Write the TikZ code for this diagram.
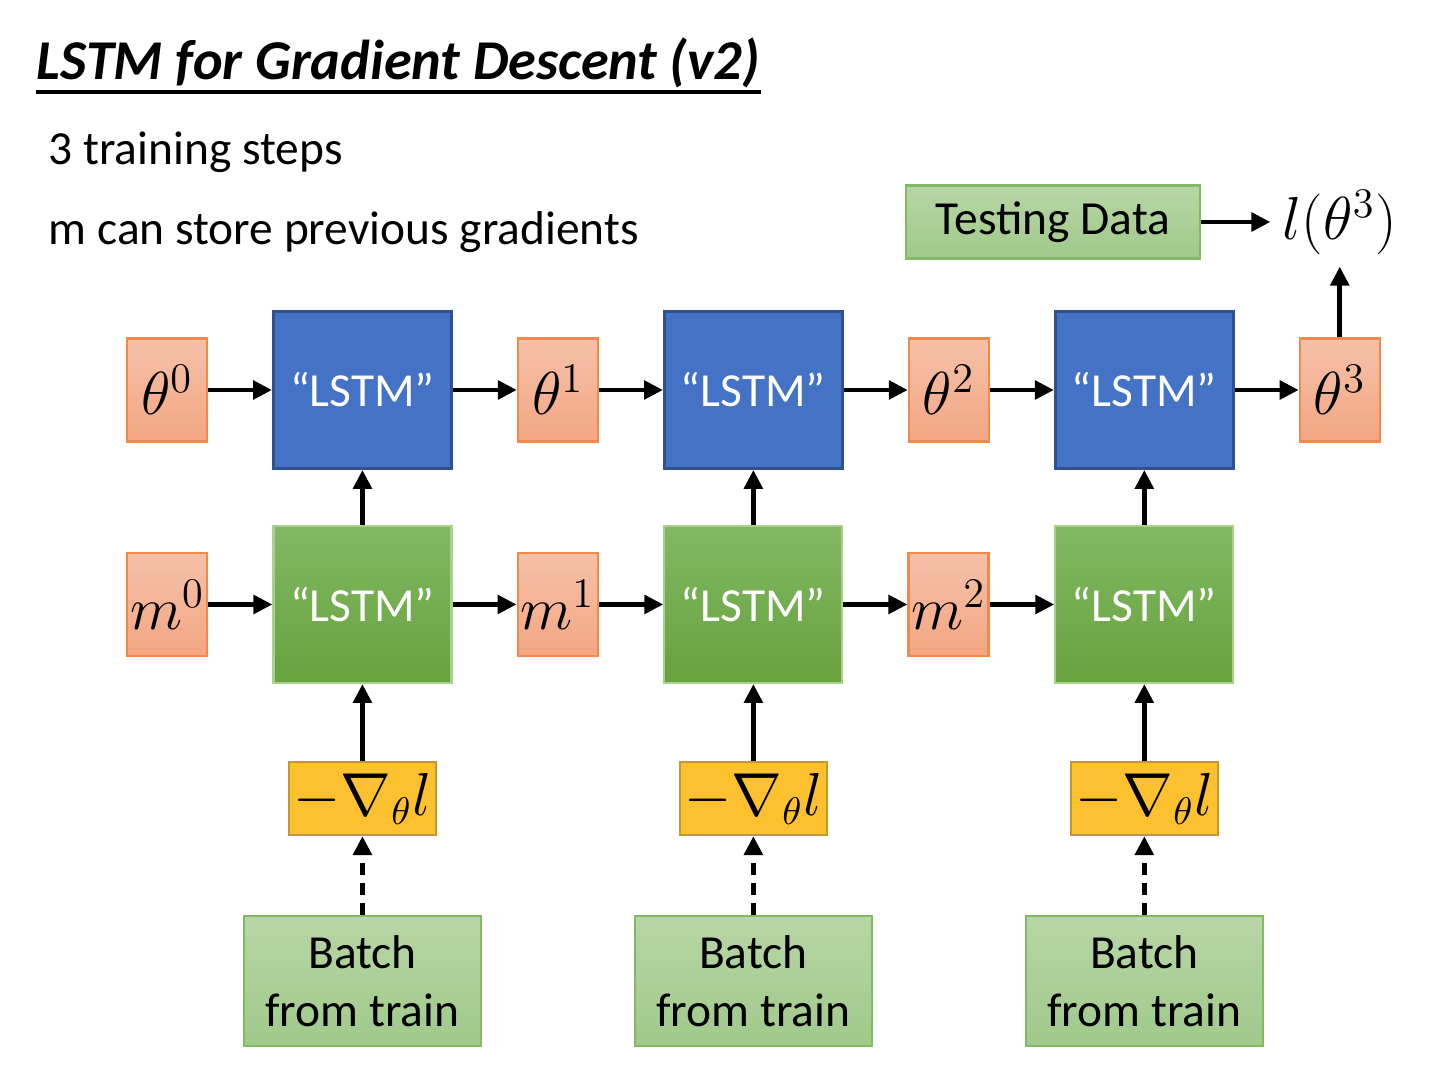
\documentclass[tikz,border=0pt]{standalone}
\usepackage{fontspec}
\setmainfont{Carlito}
\usepackage{tikz}
\usetikzlibrary{arrows.meta, positioning}
\definecolor{lstmblue}{HTML}{4472C4}
\definecolor{lstmline}{HTML}{2F528F}
\definecolor{paramtop}{HTML}{F5C1A9}
\definecolor{parambot}{HTML}{F3A682}
\definecolor{paramline}{HTML}{F08A4B}
\definecolor{celltop}{HTML}{82B864}
\definecolor{cellbot}{HTML}{67A23D}
\definecolor{cellline}{HTML}{A9D18E}
\definecolor{datatop}{HTML}{B7D6A6}
\definecolor{databot}{HTML}{A0C98A}
\definecolor{dataline}{HTML}{82BA63}
\definecolor{gradfill}{HTML}{FDC02F}
\definecolor{gradline}{HTML}{C09A2A}

\begin{document}
\begin{tikzpicture}[
    node distance=0.64cm,
    param/.style={
        rectangle, draw=paramline, line width=0.6pt,
        top color=paramtop, bottom color=parambot,
        minimum width=0.8cm, minimum height=1.03cm, inner sep=0pt,
        font=\fontsize{17}{19}\selectfont
    },
    lstm/.style={
        rectangle, draw=lstmline, line width=0.8pt, fill=lstmblue,
        minimum width=1.78cm, minimum height=1.57cm,
        text=white, font=\fontsize{13.5}{16}\selectfont
    },
    cell/.style={
        rectangle, draw=cellline, line width=0.6pt,
        top color=celltop, bottom color=cellbot,
        minimum width=1.78cm, minimum height=1.57cm,
        text=white, font=\fontsize{13.5}{16}\selectfont
    },
    grad/.style={
        rectangle, draw=gradline, line width=0.6pt, fill=gradfill,
        minimum width=1.47cm, minimum height=0.73cm, inner sep=0pt,
        font=\fontsize{16}{18}\selectfont
    },
    data/.style={
        rectangle, draw=dataline, line width=0.6pt,
        top color=datatop, bottom color=databot,
        align=center, font=\fontsize{13.5}{16.5}\selectfont
    },
    txt/.style={
        anchor=base west, inner sep=0pt, font=\fontsize{13.5}{16}\selectfont
    },
    arrow/.style={
        -{Triangle[length=5.4pt, width=5.2pt]}, line width=1.4pt
    },
    dasharrow/.style={
        arrow, dash pattern=on 3.4pt off 2.3pt
    }
]

\useasboundingbox (0,0) rectangle (14.4,-10.8);

\node[anchor=base west, inner sep=0pt, font=\fontsize{16}{19}\selectfont\bfseries\itshape]
    (title) at (0.36,-0.80) {LSTM for Gradient Descent (v2)};
\draw[line width=0.9pt] ([yshift=-0.12cm]title.base west) -- ([yshift=-0.12cm]title.base east);

\node[txt] (steps) at (0.48,-1.65) {3 training steps};
\node[txt] (store) at (0.48,-2.45) {m can store previous gradients};

\node[param] (th0) at (1.67,-3.90) {$\theta^0$};
\node[lstm, right=of th0] (lstm1) {“LSTM”};
\node[param, right=of lstm1] (th1) {$\theta^1$};
\node[lstm, right=of th1] (lstm2) {“LSTM”};
\node[param, right=of lstm2] (th2) {$\theta^2$};
\node[lstm, right=of th2] (lstm3) {“LSTM”};
\node[param, right=of lstm3] (th3) {$\theta^3$};

\node[cell, below=0.55cm of lstm1] (cell1) {“LSTM”};
\node[cell, below=0.55cm of lstm2] (cell2) {“LSTM”};
\node[cell, below=0.55cm of lstm3] (cell3) {“LSTM”};
\node[param, left=of cell1] (m0) {$m^0$};
\node[param, right=of cell1] (m1) {$m^1$};
\node[param, right=of cell2] (m2) {$m^2$};

\node[grad, below=0.77cm of cell1] (grad1) {$-\nabla_{\theta} l$};
\node[grad, below=0.77cm of cell2] (grad2) {$-\nabla_{\theta} l$};
\node[grad, below=0.77cm of cell3] (grad3) {$-\nabla_{\theta} l$};

\node[data, below=0.79cm of grad1, minimum width=2.37cm, minimum height=1.30cm] (batch1) {Batch\\from train};
\node[data, below=0.79cm of grad2, minimum width=2.37cm, minimum height=1.30cm] (batch2) {Batch\\from train};
\node[data, below=0.79cm of grad3, minimum width=2.37cm, minimum height=1.30cm] (batch3) {Batch\\from train};

\node[data, minimum width=2.94cm, minimum height=0.73cm] (test) at (10.53,-2.22) {Testing Data};
\node[font=\fontsize{17}{20}\selectfont] (loss) at (th3 |- test) {$l(\theta^3)$};

\draw[arrow] (th0) -- (lstm1);
\draw[arrow] (lstm1) -- (th1);
\draw[arrow] (th1) -- (lstm2);
\draw[arrow] (lstm2) -- (th2);
\draw[arrow] (th2) -- (lstm3);
\draw[arrow] (lstm3) -- (th3);

\draw[arrow] (m0) -- (cell1);
\draw[arrow] (cell1) -- (m1);
\draw[arrow] (m1) -- (cell2);
\draw[arrow] (cell2) -- (m2);
\draw[arrow] (m2) -- (cell3);

\draw[arrow] (cell1) -- (lstm1);
\draw[arrow] (cell2) -- (lstm2);
\draw[arrow] (cell3) -- (lstm3);
\draw[arrow] (grad1) -- (cell1);
\draw[arrow] (grad2) -- (cell2);
\draw[arrow] (grad3) -- (cell3);
\draw[dasharrow] (batch1) -- (grad1);
\draw[dasharrow] (batch2) -- (grad2);
\draw[dasharrow] (batch3) -- (grad3);

\draw[arrow] (test) -- (loss);
\draw[arrow] (th3) -- (loss);

\end{tikzpicture}
\end{document}
